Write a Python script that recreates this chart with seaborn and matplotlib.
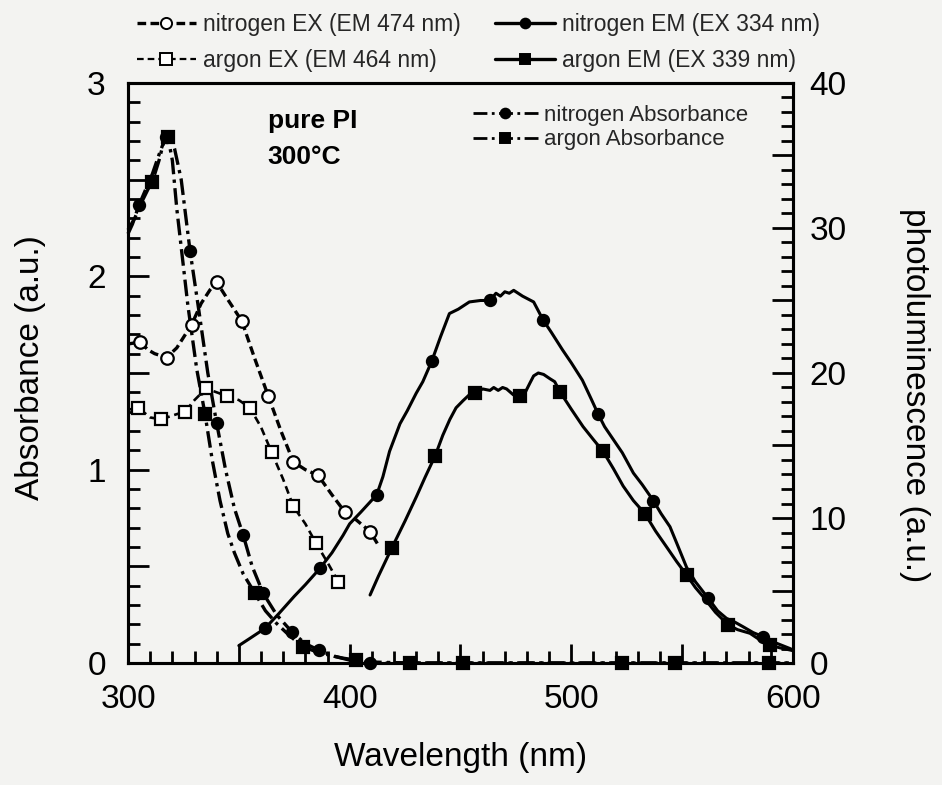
import numpy as np
import pandas as pd
import matplotlib
matplotlib.use("Agg")
import matplotlib.pyplot as plt
from matplotlib.ticker import MultipleLocator, FuncFormatter
from matplotlib.lines import Line2D
import seaborn as sns

# ---------------- data ----------------
# Absorbance (left axis, a.u.)
abs_n2_wl = [300, 302, 305, 308, 311, 314, 317, 319, 321, 324, 328, 332, 336, 340,
             344, 348, 352, 356, 361, 367, 374, 380, 386, 393, 400, 409, 430, 460,
             500, 540, 570, 600]
abs_n2 = [2.22, 2.27, 2.37, 2.45, 2.53, 2.63, 2.72, 2.73, 2.66, 2.50, 2.13, 1.82, 1.50,
          1.24, 1.00, 0.80, 0.66, 0.50, 0.36, 0.25, 0.16, 0.10, 0.067, 0.035, 0.015,
          0.0, 0.0, 0.0, 0.0, 0.0, 0.0, 0.0]
abs_n2_marks = [305, 317, 328, 340, 352, 361, 374, 386, 409]

abs_ar_wl = [300, 303, 306, 309, 311, 314, 316, 318, 320, 322, 324.5, 327, 331, 334.7,
             338, 341.5, 345, 348, 352, 357.3, 362, 367, 373, 379, 385, 391, 397, 403,
             410, 427, 451, 475, 499, 523, 547, 571, 589, 600]
abs_ar = [2.24, 2.30, 2.38, 2.45, 2.49, 2.60, 2.69, 2.72, 2.60, 2.35, 2.10, 1.85, 1.52,
          1.29, 1.05, 0.84, 0.67, 0.57, 0.46, 0.36, 0.27, 0.205, 0.14, 0.084, 0.058,
          0.04, 0.025, 0.015, 0.005, 0.0, 0.0, 0.0, 0.0, 0.0, 0.0, 0.0, 0.0, 0.0]
abs_ar_marks = [311, 318, 334.7, 357.3, 379, 403, 427, 451, 523, 547, 589]

# Excitation spectra (left axis)
ex_n2_wl = [300, 305.4, 309, 312, 317.4, 322, 328.7, 333, 337, 340, 345, 351.3, 357,
            363.3, 369, 374.6, 380, 385.8, 392, 397.9, 403, 409.2, 412.9]
ex_n2 = [1.65, 1.66, 1.62, 1.60, 1.58, 1.63, 1.75, 1.86, 1.93, 1.97, 1.88, 1.77, 1.58,
         1.38, 1.20, 1.04, 1.00, 0.97, 0.87, 0.78, 0.74, 0.68, 0.61]
ex_n2_marks = [305.4, 317.4, 328.7, 340, 351.3, 363.3, 374.6, 385.8, 397.9, 409.2]

ex_ar_wl = [300, 304.6, 310, 315, 320, 325.7, 330, 335.2, 340, 344.8, 350, 355, 360,
            364.8, 370, 374.6, 380, 384.8, 390, 394.9]
ex_ar = [1.31, 1.32, 1.27, 1.26, 1.28, 1.30, 1.36, 1.42, 1.40, 1.38, 1.36, 1.32, 1.22,
         1.09, 0.95, 0.81, 0.72, 0.62, 0.52, 0.42]
ex_ar_marks = [304.6, 315, 325.7, 335.2, 344.8, 355, 364.8, 374.6, 384.8, 394.9]

# Emission spectra (right axis, photoluminescence a.u.)
em_n2_wl = [350, 355, 361.8, 368, 375, 380, 386.6, 392, 397, 400, 405, 412.2, 415, 418,
            422.7, 426, 430, 433, 437, 441, 445, 449, 454, 459, 463.3, 466, 468, 470,
            472, 474, 478, 483, 487.3, 491, 496, 500, 505, 509, 512, 515, 519, 523, 528,
            532, 537, 540.5, 544.5, 548, 552, 556, 561.8, 566, 570, 574, 577.5, 582,
            586.6, 592, 598.6, 600]
em_n2 = [1.2, 1.7, 2.39, 3.4, 4.6, 5.4, 6.53, 7.6, 8.8, 9.6, 10.4, 11.6, 12.85, 14.6,
         16.5, 17.4, 18.6, 19.4, 20.8, 22.5, 24.1, 24.4, 24.9, 25.0, 25.0, 25.5, 25.3,
         25.6, 25.5, 25.7, 25.3, 24.9, 23.65, 22.8, 21.6, 20.7, 19.5, 18.2, 17.2, 16.3,
         15.4, 14.5, 13.1, 12.3, 11.2, 10.3, 9.4, 8.1, 6.6, 5.6, 4.46, 3.6, 3.08, 2.8,
         2.5, 2.1, 1.81, 1.4, 1.0, 0.9]
em_n2_marks = [361.8, 386.6, 412.2, 437, 463.3, 487.3, 512, 537, 561.8, 586.6]

em_ar_wl = [409.2, 413, 418.9, 425, 430.2, 434, 438.6, 442, 445.2, 448, 451.2, 454,
            456.5, 460, 463.3, 465, 467, 469, 470.8, 473.8, 476.8, 479, 481.3, 483,
            485.1, 487.5, 490.4, 492.5, 494.9, 500, 505.3, 510, 514.3, 519, 523.4, 528,
            533.2, 538, 543, 547.5, 552, 556, 559.5, 565, 570.8, 575, 580.6, 585, 589.6,
            594, 598.6, 600]
em_ar = [4.69, 6.0, 7.9, 9.8, 11.5, 12.8, 14.3, 15.7, 16.8, 17.6, 18.1, 18.5, 18.6,
         18.9, 18.8, 19.0, 18.8, 19.0, 18.9, 18.5, 18.4, 18.6, 19.3, 19.8, 20.0, 19.9,
         19.6, 19.4, 18.7, 17.5, 16.3, 15.4, 14.6, 13.4, 12.2, 11.2, 10.3, 9.1, 8.0,
         7.0, 6.07, 5.2, 4.57, 3.5, 2.62, 2.3, 2.05, 1.6, 1.24, 1.05, 0.9, 0.85]
em_ar_marks = [418.9, 438.6, 456.5, 476.8, 494.9, 514.3, 533.2, 552, 570.8, 589.6]

x_ticklabels = ["300", "400", "500", "600"]
left_ticklabels = ["0", "1", "2", "3"]
right_ticklabels = ["0", "10", "20", "30", "40"]

legend_top = ["nitrogen EX (EM 474 nm)", "argon EX (EM 464 nm)",
              "nitrogen EM (EX 334 nm)", "argon EM (EX 339 nm)"]
legend_inner = ["nitrogen Absorbance", "argon Absorbance"]

# ---------------- style ----------------
sns.set_theme(style="white")
plt.rcParams["font.family"] = ["Liberation Sans", "DejaVu Sans"]
paper = "#f3f3f1"
plt.rcParams["figure.facecolor"] = paper
plt.rcParams["axes.facecolor"] = paper

fig = plt.figure(figsize=(9.42, 7.85), dpi=100)
ax = fig.add_axes([0.1359, 0.1554, 0.7059, 0.7389])
ax2 = ax.twinx()
ax.set_zorder(ax2.get_zorder() + 1)
ax.patch.set_visible(False)

K = "black"
dash_ex_n2 = (0, (2.6, 1.3))
dash_ex_ar = (0, (3.0, 1.8))
dash_abs = (0, (5.0, 1.6, 1.0, 1.6))


def draw(axis, wl, vals, marks, ls, marker, face, lw, ms, clip=True):
    df = pd.DataFrame({"wl": wl, "val": vals})
    idx = list(np.flatnonzero(np.isin(df["wl"].to_numpy(), marks)))
    sns.lineplot(data=df, x="wl", y="val", ax=axis, sort=False, estimator=None,
                 color=K, linestyle=ls, linewidth=lw, marker=marker, markersize=ms,
                 markerfacecolor=face, markeredgecolor=K, markeredgewidth=1.6,
                 markevery=idx, legend=False)
    line = axis.get_lines()[-1]
    line.set_clip_on(clip)
    return line


draw(ax, abs_ar_wl, abs_ar, abs_ar_marks, dash_abs, "s", K, 2.4, 8.5, clip=False)
draw(ax, abs_n2_wl, abs_n2, abs_n2_marks, dash_abs, "o", K, 2.4, 8, clip=False)
draw(ax, ex_ar_wl, ex_ar, ex_ar_marks, dash_ex_ar, "s", "white", 1.9, 9)
draw(ax, ex_n2_wl, ex_n2, ex_n2_marks, dash_ex_n2, "o", "white", 2.4, 9)
draw(ax2, em_n2_wl, em_n2, em_n2_marks, "-", "o", K, 2.2, 8)
draw(ax2, em_ar_wl, em_ar, em_ar_marks, "-", "s", K, 2.2, 8.5)

# ---------------- axes ----------------
ax.set_xlim(300, 600)
ax.set_ylim(0, 3)
ax2.set_ylim(0, 40)

FS = 24
ax.xaxis.set_major_locator(MultipleLocator(50))
ax.xaxis.set_minor_locator(MultipleLocator(10))
ax.yaxis.set_major_locator(MultipleLocator(0.5))
ax.yaxis.set_minor_locator(MultipleLocator(0.1))
ax2.yaxis.set_major_locator(MultipleLocator(5))
ax2.yaxis.set_minor_locator(MultipleLocator(1))


def labeller(step, labels):
    def f(v, pos):
        k = v / step
        if abs(k - round(k)) < 1e-6 and 0 <= int(round(k)) < len(labels):
            return labels[int(round(k))]
        return ""
    return FuncFormatter(f)


ax.xaxis.set_major_formatter(labeller(100, ["", "", ""] + x_ticklabels))
ax.yaxis.set_major_formatter(labeller(1, left_ticklabels))
ax2.yaxis.set_major_formatter(labeller(10, right_ticklabels))

for a in (ax, ax2):
    for s in a.spines.values():
        s.set_linewidth(2.2)
        s.set_color(K)

ax.tick_params(axis="x", which="both", direction="in", bottom=True, top=False,
               labelsize=FS, pad=15, colors=K, width=2)
ax.tick_params(axis="x", which="major", length=14)
ax.tick_params(axis="x", which="minor", length=9)
ax.tick_params(axis="y", which="both", direction="in", left=True, right=False,
               labelsize=FS, pad=16, colors=K, width=2)
ax.tick_params(axis="y", which="major", length=15)
ax.tick_params(axis="y", which="minor", length=8.5)
ax2.tick_params(axis="y", which="both", direction="in", left=False, right=True,
                labelsize=FS, pad=12, colors=K, width=2)
ax2.tick_params(axis="y", which="major", length=15)
ax2.tick_params(axis="y", which="minor", length=8.5)

ax.set_xlabel("Wavelength (nm)", fontsize=FS, color=K)
ax.xaxis.set_label_coords(0.5, -0.136)
ax.set_ylabel("Absorbance (a.u.)", fontsize=FS, color=K, va="center")
ax.yaxis.set_label_coords(-0.146, 0.509)
ax2.set_ylabel("photoluminescence (a.u.)", fontsize=FS, color=K, rotation=270,
               va="center")
ax2.yaxis.set_label_coords(1.1835, 0.462)

ax.text(0.21, 0.934, "pure PI", transform=ax.transAxes, fontsize=19,
        fontweight="bold", va="center", ha="left", color=K)
ax.text(0.21, 0.872, "300°C", transform=ax.transAxes, fontsize=19,
        fontweight="bold", va="center", ha="left", color=K)

# ---------------- legends ----------------
def proxy(ls, marker, face, lw, ms):
    return Line2D([], [], color=K, linestyle=ls, linewidth=lw, marker=marker,
                  markersize=ms, markerfacecolor=face, markeredgecolor=K,
                  markeredgewidth=1.4)


top_handles = [proxy(dash_ex_n2, "o", "white", 2.4, 8),
               proxy(dash_ex_ar, "s", "white", 1.6, 8),
               proxy("-", "o", K, 2.4, 7),
               proxy("-", "s", K, 2.4, 7.5)]
fig.legend(top_handles, legend_top, ncol=2, loc="upper left",
           bbox_to_anchor=(0.145, 0.984), frameon=False, fontsize=16.5,
           handlelength=2.6, handletextpad=0.3, columnspacing=1.5,
           labelspacing=0.6, borderpad=0, borderaxespad=0)

inner_handles = [proxy(dash_abs, "o", K, 2.0, 7),
                 proxy(dash_abs, "s", K, 2.0, 7.5)]
ax.legend(inner_handles, legend_inner, loc="upper left",
          bbox_to_anchor=(0.519, 0.962), frameon=False, fontsize=16,
          handlelength=2.9, handletextpad=0.3, labelspacing=0.15,
          borderpad=0, borderaxespad=0)

fig.savefig("out.png", dpi=100, facecolor=paper)
